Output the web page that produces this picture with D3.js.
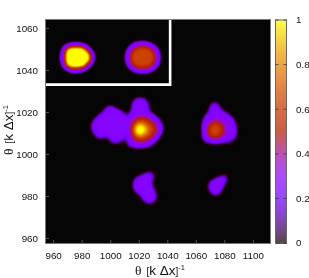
<!DOCTYPE html>
<html>
<head>
<meta charset="utf-8">
<script src="https://cdn.jsdelivr.net/npm/d3@7"></script>
<style>
  html, body { margin: 0; padding: 0; background: #fff; }
  svg { display: block; filter: blur(0.3px); }
  text { font-family: "Liberation Sans", sans-serif; fill: #111; }
  .ser { font-family: "Liberation Serif", serif; }
</style>
</head>
<body>
<svg width="309" height="278"></svg>
<script>
const xTicks = [960, 980, 1000, 1020, 1040, 1060, 1080, 1100];
const yTicks = [960, 980, 1000, 1020, 1040, 1060];
const barTicks = [0, 0.2, 0.4, 0.6, 0.8, 1];
const insetEdge = [[955, 1033], [1042, 1033], [1042, 1064]];

// grid spacing of the map, in theta units
const xStart = 955, xStep = 3;
const yStart = 1064, yStep = 2;
const nx = 53, ny = 54;

// intensity; each patch starts at its top left theta
const yellowSpot = [
  [0, .1, .2, .26, .22, .08, 0, 0],
  [.1, .85, 1, 1, 1, .85, .14, 0],
  [.3, 1, 1, 1, 1, 1, .85, .06],
  [.35, 1, 1, 1, 1, 1, 1, .2],
  [.3, 1, 1, 1, 1, 1, .85, .06],
  [.08, .85, 1, 1, 1, .85, .12, 0],
  [0, .08, .3, .35, .26, .06, 0, 0]
];
const orangeSpot = [
  [0, 0, 0, .02, .02, 0, 0, 0],
  [0, .1, .3, .42, .42, .3, .12, 0],
  [.08, .38, .66, .66, .66, .66, .44, .12],
  [.2, .62, .66, .66, .66, .66, .66, .3],
  [.24, .66, .66, .66, .66, .66, .66, .34],
  [.2, .64, .66, .66, .66, .66, .66, .3],
  [.08, .4, .66, .66, .66, .66, .46, .12],
  [0, .1, .3, .42, .42, .3, .12, 0],
  [0, 0, 0, .02, .02, 0, 0, 0]
];
const mainCluster = [
  [0, 0, 0, 0, 0, 0, 0, 0, 0, 0, 0, .15, .2, .15, 0, 0, 0, 0],
  [0, 0, 0, 0, 0, 0, 0, 0, 0, 0, .08, .3, .32, .3, .08, 0, 0, 0],
  [0, 0, 0, 0, .1, .26, .12, 0, 0, 0, .1, .3, .3, .3, .1, 0, 0, 0],
  [0, 0, 0, .06, .24, .3, .3, .24, .1, 0, .14, .3, .3, .3, .18, 0, 0, 0],
  [0, 0, .1, .28, .3, .3, .3, .3, .26, .1, .28, .34, .4, .4, .32, .22, .05, 0],
  [0, .1, .26, .3, .3, .3, .3, .3, .3, .18, .36, .58, .66, .64, .56, .4, .26, .03],
  [0, .2, .3, .3, .3, .3, .3, .3, .3, .22, .52, .74, .82, .74, .66, .58, .34, .14],
  [0, .22, .3, .3, .3, .3, .3, .3, .28, .2, .6, .84, 1, .86, .72, .64, .5, .2],
  [0, .08, .3, .3, .2, .3, .3, .3, .26, .12, .56, .82, .92, .8, .7, .6, .38, .12],
  [0, 0, .14, .2, .06, .2, .3, .3, .2, .05, .44, .66, .72, .68, .6, .44, .2, 0],
  [0, 0, 0, 0, 0, .1, .22, .18, .03, .14, .32, .42, .52, .48, .36, .22, .05, 0],
  [0, 0, 0, 0, 0, 0, 0, 0, 0, .08, .2, .26, .26, .24, .18, .06, 0, 0]
];
const rightCluster = [
  [0, 0, 0, .16, .12, 0, 0, 0, 0],
  [0, 0, .06, .3, .28, .02, 0, 0, 0],
  [0, 0, .1, .3, .3, .2, .08, 0, 0],
  [0, .1, .26, .3, .3, .3, .28, .14, 0],
  [0, .18, .3, .4, .44, .36, .3, .3, .1],
  [0, .26, .5, .62, .64, .52, .34, .3, .2],
  [.02, .26, .6, .66, .66, .6, .38, .3, .24],
  [0, .26, .58, .66, .66, .58, .38, .3, .24],
  [0, .24, .44, .6, .58, .42, .3, .26, .18],
  [0, .1, .18, .24, .24, .2, .18, .12, .04]
];
const lowerLeft = [
  [0, 0, 0, 0, .04, .04, 0],
  [0, 0, .06, .18, .26, .16, 0],
  [0, .18, .3, .3, .3, .08, 0],
  [.03, .26, .32, .32, .28, .06, 0],
  [.04, .26, .3, .3, .28, .12, 0],
  [0, .14, .24, .3, .3, .22, .03],
  [0, 0, .08, .26, .3, .28, .06],
  [0, 0, 0, .18, .3, .24, .03],
  [0, 0, 0, 0, .05, .03, 0]
];
const lowerRight = [
  [0, 0, 0, .05, .12],
  [0, .08, .18, .3, .2],
  [.1, .3, .3, .3, .05],
  [.12, .3, .3, .18, 0],
  [.05, .24, .28, .08, 0],
  [0, .05, .08, 0, 0]
];
const patches = [
  { x0: 967, y0: 1052, rows: yellowSpot },
  { x0: 1012, y0: 1054, rows: orangeSpot },
  { x0: 985, y0: 1026, rows: mainCluster },
  { x0: 1063, y0: 1024, rows: rightCluster },
  { x0: 1015, y0: 992, rows: lowerLeft },
  { x0: 1069, y0: 990, rows: lowerRight }
];

const x = d3.scaleLinear().domain([955, 1112]).range([46, 270]);
const y = d3.scaleLinear().domain([957.6, 1064]).range([243, 19.5]);
const barY = d3.scaleLinear().domain([0, 1]).range([243, 20]);

// gnuplot rgbformulae 7,5,15
function palette(v) {
  const s = Math.max(0, Math.sin(2 * Math.PI * v));
  return d3.rgb(255 * Math.sqrt(v), 255 * v * v * v, v >= 1 ? 0 : 255 * s);
}
// the map edge goes from black to purple much faster than the values do
const tone = d3.scaleLinear()
  .domain([0, 0.06, 0.18, 0.32, 0.66, 0.85, 1])
  .range([0, 0.01, 0.26, 0.28, 0.66, 1, 1]);

const grid = new Array(nx * ny).fill(0);
patches.forEach(p => {
  const c0 = Math.round((p.x0 - xStart) / xStep);
  const r0 = Math.round((yStart - p.y0) / yStep);
  p.rows.forEach((row, r) => row.forEach((v, c) => {
    grid[(r0 + r) * nx + c0 + c] = v;
  }));
});

// pm3d-like smoothing: bilinear on a 4x grid, then a small blur
const k = 4, fw = (nx - 1) * k + 1, fh = (ny - 1) * k + 1;
const fine = new Float64Array(fw * fh);
for (let j = 0; j < fh; j++) {
  for (let i = 0; i < fw; i++) {
    const c = Math.min(Math.floor(i / k), nx - 2), r = Math.min(Math.floor(j / k), ny - 2);
    const a = i / k - c, b = j / k - r;
    const top = d3.interpolateNumber(grid[r * nx + c], grid[r * nx + c + 1])(a);
    const bot = d3.interpolateNumber(grid[(r + 1) * nx + c], grid[(r + 1) * nx + c + 1])(a);
    fine[j * fw + i] = top + (bot - top) * b;
  }
}
d3.blur2({ data: fine, width: fw, height: fh }, 1.5);

const svg = d3.select("svg");
svg.append("rect").attr("x", x.range()[0]).attr("y", y.range()[1])
  .attr("width", x.range()[1] - x.range()[0])
  .attr("height", y.range()[0] - y.range()[1])
  .attr("fill", "#050505");

const contours = d3.contours().size([fw, fh]).thresholds(d3.range(0.02, 1, 0.02))(Array.from(fine));
const project = d3.geoTransform({
  point(px, py) {
    this.stream.point(x(xStart + (px - 0.5) / k * xStep), y(yStart - (py - 0.5) / k * yStep));
  }
});
svg.append("g").selectAll("path").data(contours).enter().append("path")
  .attr("d", d3.geoPath(project))
  .attr("fill", d => palette(tone(d.value)));

svg.append("path")
  .attr("d", d3.line().x(d => x(d[0])).y(d => y(d[1]))(insetEdge))
  .attr("fill", "none").attr("stroke", "#fff").attr("stroke-width", 2.6);

// axes
const xAxis = svg.append("g").attr("transform", `translate(0,${y.range()[0]})`)
  .call(d3.axisBottom(x).tickValues(xTicks).tickFormat(d3.format("d")).tickSizeInner(-3).tickPadding(9));
const yAxis = svg.append("g").attr("transform", `translate(${x.range()[0]},0)`)
  .call(d3.axisLeft(y).tickValues(yTicks).tickFormat(d3.format("d")).tickSizeInner(-3).tickPadding(8));
[xAxis, yAxis].forEach(a => {
  a.selectAll(".domain").remove();
  a.selectAll("line").attr("stroke", "#555");
  a.selectAll("text").attr("font-size", 9.8).attr("font-family", "Liberation Sans").attr("fill", "#111");
});
svg.append("rect").attr("x", 45.5).attr("y", 19.5).attr("width", 225).attr("height", 224)
  .attr("fill", "none").attr("stroke", "#777");

// colour box, the plot washes it out a little
const barSteps = d3.range(0, 1, 0.005);
svg.append("g").attr("opacity", 0.72).attr("shape-rendering", "crispEdges")
  .selectAll("rect").data(barSteps).enter().append("rect")
  .attr("x", 275.5).attr("width", 11)
  .attr("y", d => barY(d + 0.005)).attr("height", barY(0) - barY(0.008))
  .attr("fill", d => palette(d));
svg.append("rect").attr("x", 275.5).attr("y", 20).attr("width", 11).attr("height", 223)
  .attr("fill", "none").attr("stroke", "#666");
const barG = svg.append("g").selectAll("g").data(barTicks).enter().append("g")
  .attr("transform", d => `translate(0,${barY(d)})`);
barG.append("path").attr("d", "M275.5,0h3M283.5,0h3").attr("stroke", "#333").attr("stroke-width", 0.8);
barG.append("text").attr("x", 296).attr("dy", "0.35em").attr("font-size", 9.8).text(d => d);

// axis titles
function title(sel) {
  sel.append("tspan").attr("class", "ser").attr("font-size", 13.5).text("θ");
  sel.append("tspan").attr("dx", 5).attr("font-size", 10).text("[");
  sel.append("tspan").attr("font-size", 13.5).text("k Δx");
  sel.append("tspan").attr("font-size", 10).text("]");
  sel.append("tspan").attr("font-size", 7.5).attr("dy", -5).text("-1");
}
svg.append("text").attr("x", 160).attr("y", 275).attr("text-anchor", "middle").call(title);
svg.append("text").attr("transform", "translate(13,130) rotate(-90)").attr("text-anchor", "middle").call(title);
</script>
</body>
</html>
